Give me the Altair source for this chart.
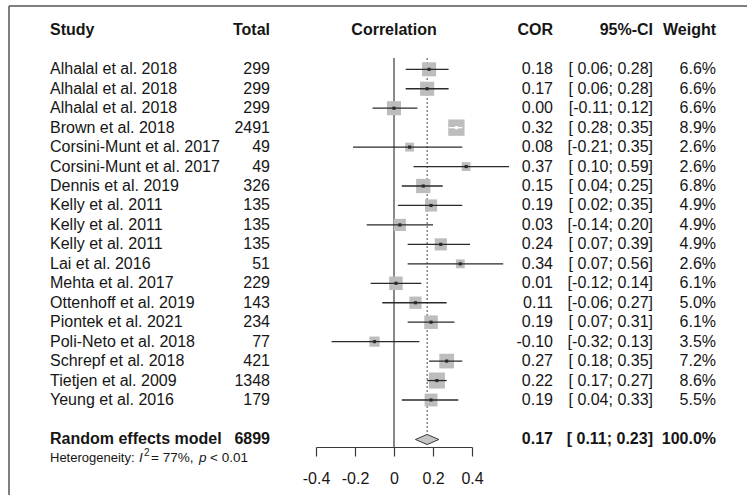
import altair as alt
import pandas as pd

studies = ["Alhalal et al. 2018", "Alhalal et al. 2018", "Alhalal et al. 2018",
           "Brown et al. 2018", "Corsini-Munt et al. 2017", "Corsini-Munt et al. 2017",
           "Dennis et al. 2019", "Kelly et al. 2011", "Kelly et al. 2011", "Kelly et al. 2011",
           "Lai et al. 2016", "Mehta et al. 2017", "Ottenhoff et al. 2019", "Piontek et al. 2021",
           "Poli-Neto et al. 2018", "Schrepf et al. 2018", "Tietjen et al. 2009", "Yeung et al. 2016"]
totals = [299, 299, 299, 2491, 49, 49, 326, 135, 135, 135, 51, 229, 143, 234, 77, 421, 1348, 179]
cor = [0.18, 0.17, 0.00, 0.32, 0.08, 0.37, 0.15, 0.19, 0.03, 0.24, 0.34, 0.01, 0.11, 0.19, -0.10, 0.27, 0.22, 0.19]
lower = [0.06, 0.06, -0.11, 0.28, -0.21, 0.10, 0.04, 0.02, -0.14, 0.07, 0.07, -0.12, -0.06, 0.07, -0.32, 0.18, 0.17, 0.04]
upper = [0.28, 0.28, 0.12, 0.35, 0.35, 0.59, 0.25, 0.35, 0.20, 0.39, 0.56, 0.14, 0.27, 0.31, 0.13, 0.35, 0.27, 0.33]
weight = [6.6, 6.6, 6.6, 8.9, 2.6, 2.6, 6.8, 4.9, 4.9, 4.9, 2.6, 6.1, 5.0, 6.1, 3.5, 7.2, 8.6, 5.5]

summary_label = "Random effects model"
summary_total = 6899
summary_cor = 0.17
summary_lower = 0.11
summary_upper = 0.23
summary_weight = 100.0
heterogeneity = ["Heterogeneity:", "I", "2", "= 77%,", "p", "< 0.01"]
x_ticks = [-0.4, -0.2, 0, 0.2, 0.4]

FONT = "Liberation Sans"
FS = 16
TXT = "#161616"

# layout constants (row units)
ROW_SUM = 19.03
ROW_HET = 19.96
ROW_HEAD = -2.02
ROW_TOP = -0.58
ROW_AXIS = 19.42
DIAM_H = 0.26
SQ_K = 30.0
PX_PER_UNIT = 195.0

def fmt_ci(lo, hi):
    return f"[{lo:5.2f}; {hi:.2f}]"

df = pd.DataFrame({
    "row": list(range(len(studies))),
    "study": studies,
    "total": [str(t) for t in totals],
    "cor": cor,
    "lower": lower,
    "upper": upper,
    "weight": weight,
})
df["cor_txt"] = [f"{v:.2f}" for v in cor]
df["ci_txt"] = [fmt_ci(a, b) for a, b in zip(lower, upper)]
df["w_txt"] = [f"{w:.1f}%" for w in weight]
df["sq"] = [w * SQ_K for w in weight]
inside = [(u - l) * PX_PER_UNIT < (w * SQ_K) ** 0.5 for l, u, w in zip(lower, upper, weight)]
df["linecol"] = ["#ffffff" if i else "#2a2a2a" for i in inside]

xscale = alt.Scale(domain=[-0.4, 0.4], range=[316, 472], nice=False, zero=False)
yscale = alt.Scale(domain=[0, 17], range=[69.3, 400], nice=False, zero=False)
xaxis = alt.Axis(values=x_ticks, title=None, grid=False, labelFont=FONT, labelFontSize=FS,
                 labelColor=TXT, domainColor="#3a3a3a", tickColor="#3a3a3a", domainWidth=1.2,
                 tickWidth=1.2, tickSize=9, labelPadding=14,
                 labelExpr="datum.value == 0 ? '0' : (datum.value < 0 ? '-' : '') + format(abs(datum.value), '.1f')",
                 labelFlush=False, labelOverlap=False)

def X(field, **kw):
    return alt.X(field, type="quantitative", scale=xscale, axis=xaxis, **kw)

def Y(field):
    return alt.Y(field, type="quantitative", scale=yscale, axis=None)

base = alt.Chart(df)

# reference lines
ref = pd.DataFrame({"x": [0.0], "y1": [ROW_TOP], "y2": [ROW_AXIS]})
zero_line = alt.Chart(ref).mark_rule(color="#3a3a3a", strokeWidth=1.2).encode(
    x=X("x"), y=Y("y1"), y2="y2")
dot = pd.DataFrame({"x": [summary_cor], "y1": [ROW_TOP], "y2": [ROW_SUM - DIAM_H]})
dot_line = alt.Chart(dot).mark_rule(color="#666666", strokeWidth=1.2, strokeDash=[2, 2]).encode(
    x=X("x"), y=Y("y1"), y2="y2")

squares = base.mark_point(shape="square", filled=True, color="#bdbdbd", opacity=1).encode(
    x=X("cor"), y=Y("row"), size=alt.Size("sq:Q", scale=None, legend=None))
ci = base.mark_rule(strokeWidth=1.3).encode(
    x=X("lower"), x2="upper", y=Y("row"), color=alt.Color("linecol:N", scale=None, legend=None))
centers = base.mark_point(shape="square", filled=True, size=10, opacity=1).encode(
    x=X("cor"), y=Y("row"), color=alt.Color("linecol:N", scale=None, legend=None))

diam = pd.DataFrame({
    "x": [summary_lower, summary_cor, summary_upper],
    "yt": [ROW_SUM, ROW_SUM - DIAM_H, ROW_SUM],
    "yb": [ROW_SUM, ROW_SUM + DIAM_H, ROW_SUM],
})
diamond = alt.Chart(diam).mark_area(fill="#c4c4c4", stroke="#3a3a3a", strokeWidth=1).encode(
    x=X("x"), y=Y("yt"), y2="yb")

def txt(data, field, xpx, align, bold=False, size=FS, italic=False, dy=0):
    m = alt.Chart(data).mark_text(align=align, baseline="middle", font=FONT, fontSize=size,
                                  fontWeight="bold" if bold else "normal",
                                  fontStyle="italic" if italic else "normal", color=TXT, dy=dy)
    return m.encode(x=alt.value(xpx), y=Y("row"), text=alt.Text(field + ":N"))

study_t = txt(df, "study", 50, "left")
total_t = txt(df, "total", 270, "right")
cor_t = txt(df, "cor_txt", 553, "right")
ci_t = txt(df, "ci_txt", 653, "right")
w_t = txt(df, "w_txt", 716, "right")

head = pd.DataFrame({"row": [ROW_HEAD], "a": ["Study"], "b": ["Total"], "c": ["Correlation"],
                     "d": ["COR"], "e": ["95%-CI"], "f": ["Weight"]})
heads = [txt(head, "a", 50, "left", True), txt(head, "b", 270, "right", True),
         txt(head, "c", 394, "center", True), txt(head, "d", 553, "right", True),
         txt(head, "e", 653, "right", True), txt(head, "f", 716, "right", True)]

summ = pd.DataFrame({"row": [ROW_SUM], "a": [summary_label], "b": [str(summary_total)],
                     "d": [f"{summary_cor:.2f}"], "e": [fmt_ci(summary_lower, summary_upper)],
                     "f": [f"{summary_weight:.1f}%"]})
summs = [txt(summ, "a", 50, "left", True), txt(summ, "b", 270, "right", True),
         txt(summ, "d", 553, "right", True), txt(summ, "e", 653, "right", True),
         txt(summ, "f", 716, "right", True)]

het = pd.DataFrame({"row": [ROW_HET], **{f"h{i}": [s] for i, s in enumerate(heterogeneity)}})
HS = 13.5
hets = [txt(het, "h0", 50, "left", size=13),
        txt(het, "h1", 139, "left", size=HS, italic=True),
        txt(het, "h2", 144, "left", size=10, dy=-5),
        txt(het, "h3", 151, "left", size=HS),
        txt(het, "h4", 199, "left", size=HS, italic=True),
        txt(het, "h5", 210, "left", size=HS)]

frame_l = alt.Chart(ref).mark_rule(color="#555555", strokeWidth=1.5).encode(
    x=alt.value(9), y=alt.value(6), y2=alt.value(500))
frame_t = alt.Chart(ref).mark_rule(color="#555555", strokeWidth=1.5).encode(
    x=alt.value(9), x2=alt.value(760), y=alt.value(6))

chart = alt.layer(
    zero_line, dot_line, squares, ci, centers, diamond,
    study_t, total_t, cor_t, ci_t, w_t, *heads, *summs, *hets, frame_l, frame_t
).properties(
    width=747, height=447, autosize=alt.AutoSizeParams(type="none"),
    padding={"left": 0, "top": 0, "right": 0, "bottom": 48},
    background="white"
).configure_view(stroke=None, clip=False)

chart.save("out.html", embed_options={"renderer": "svg", "actions": False})
